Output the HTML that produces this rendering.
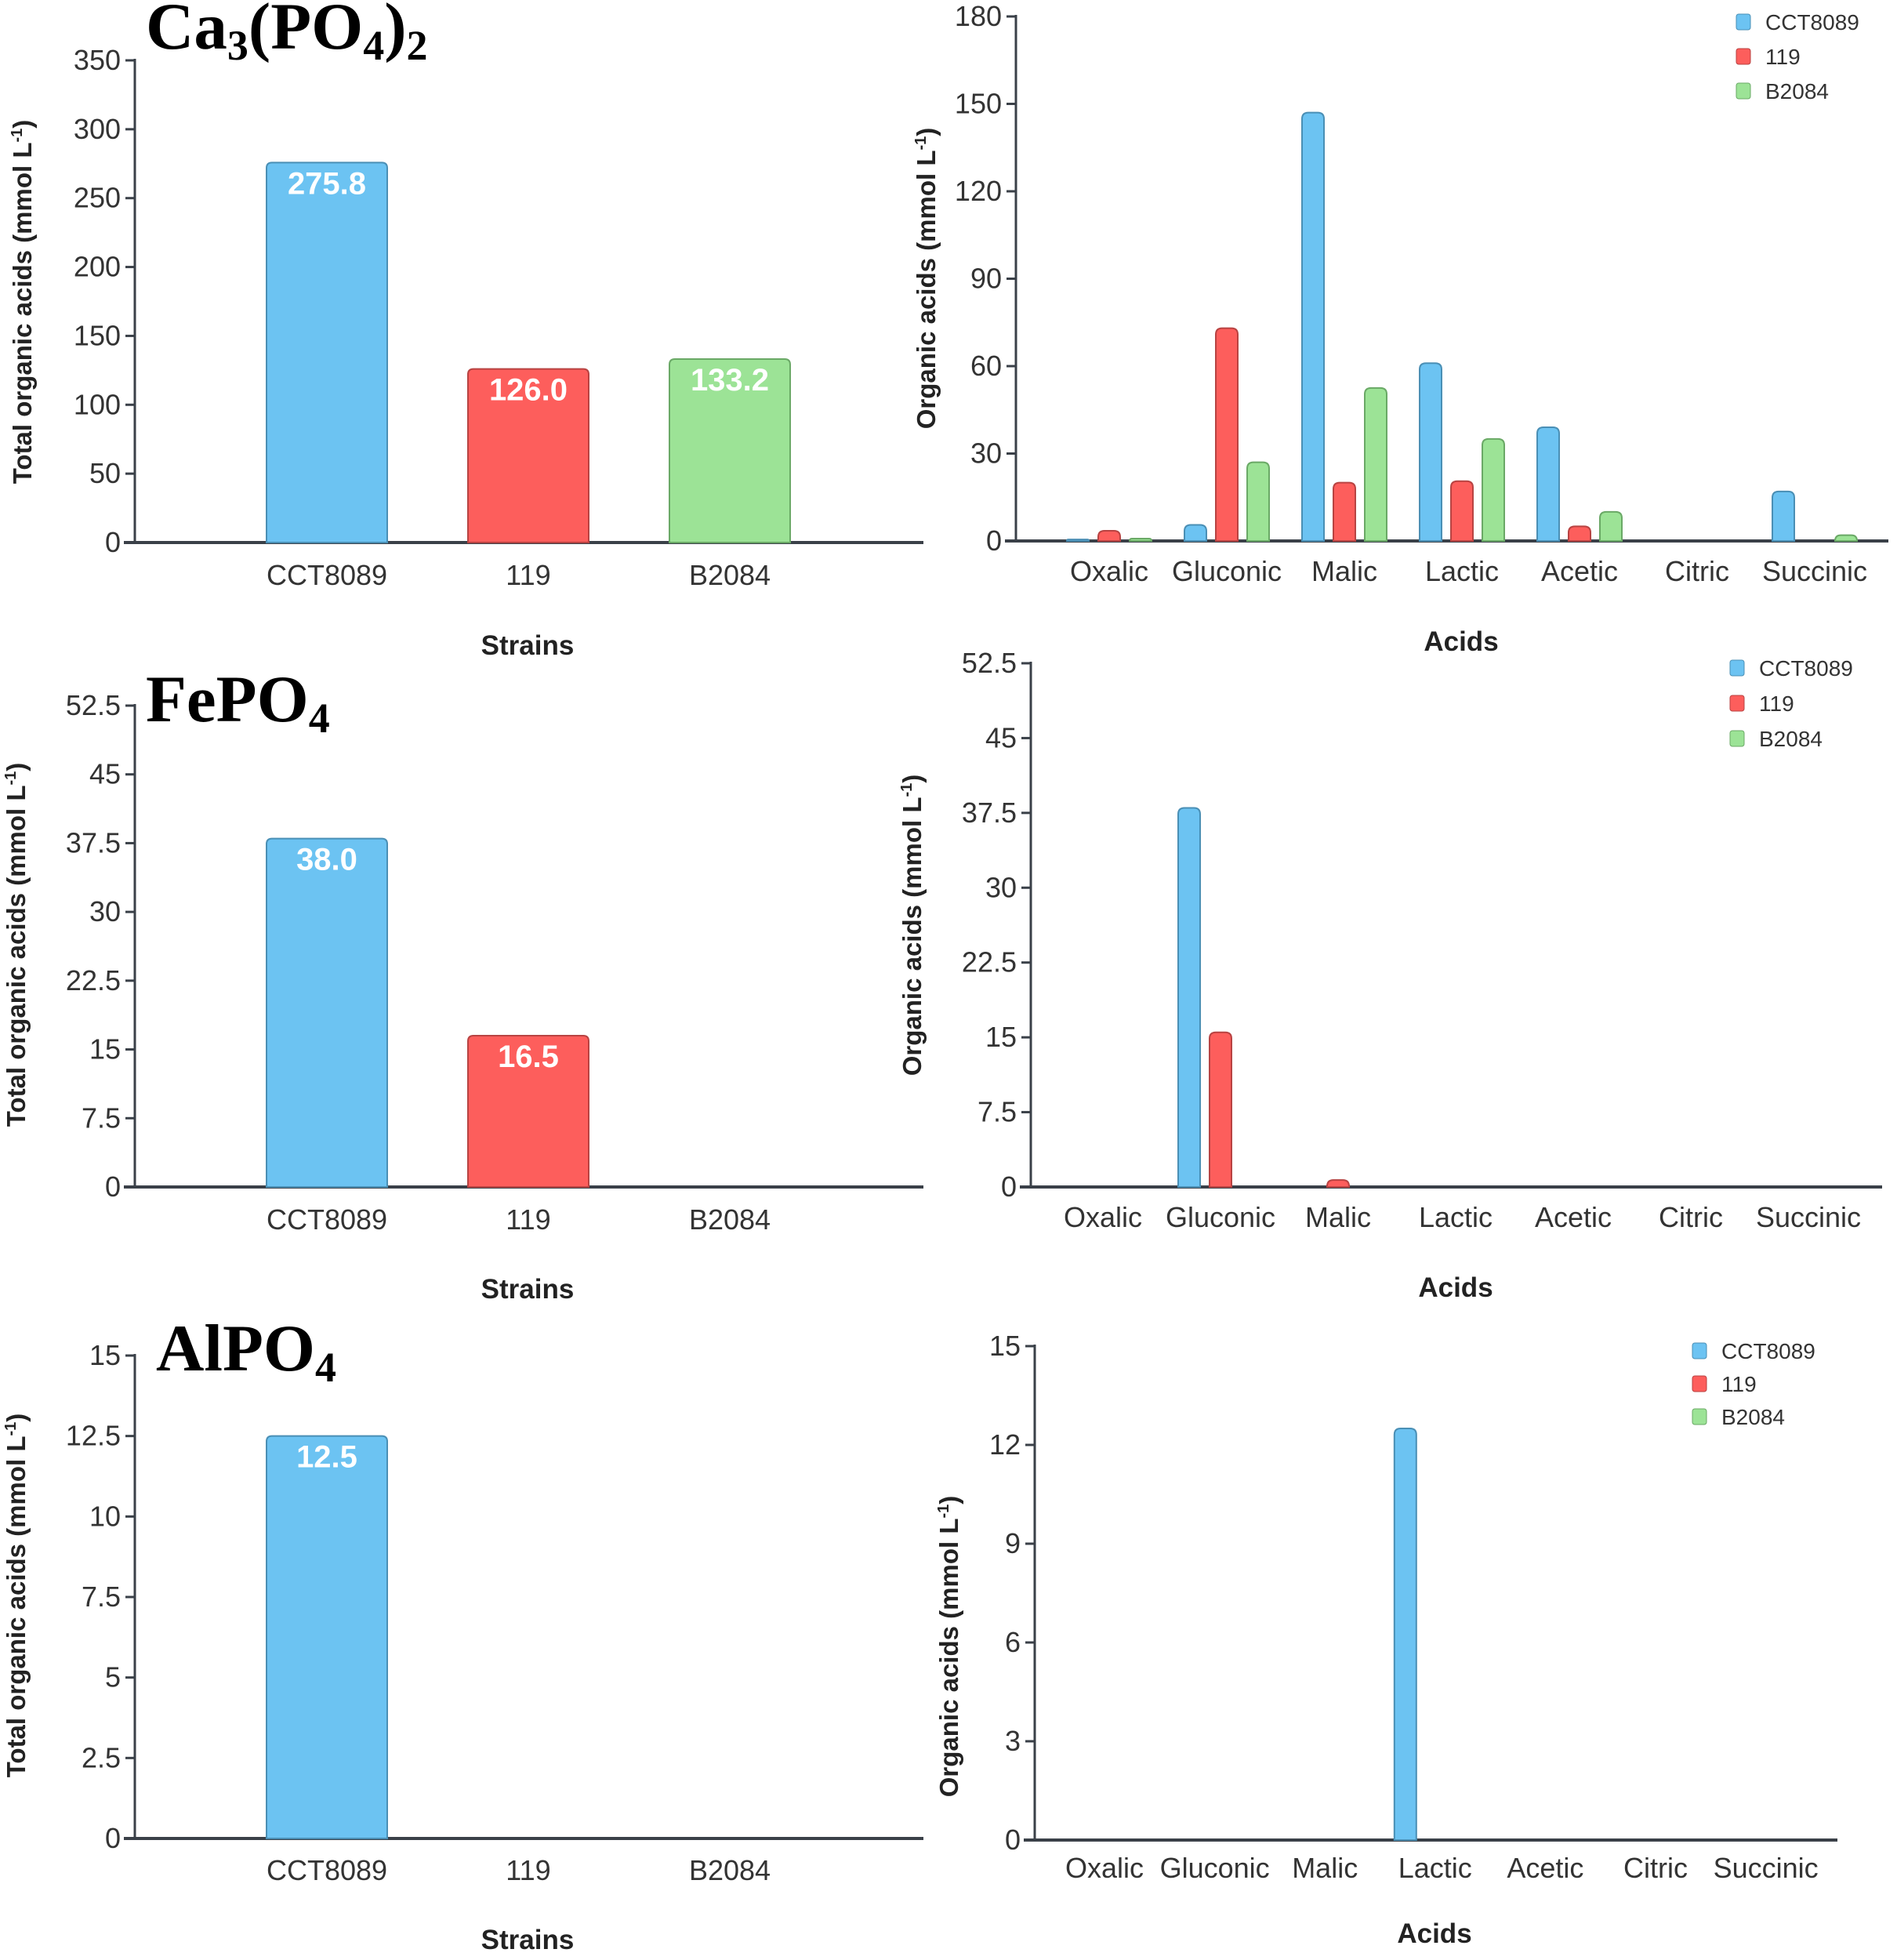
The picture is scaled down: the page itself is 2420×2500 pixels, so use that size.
<!DOCTYPE html>
<html><head><meta charset="utf-8">
<style>
html,body{margin:0;padding:0;background:#fff;}
svg{display:block;}
text{font-family:"Liberation Sans Narrow","Liberation Sans",sans-serif;fill:#333;}
.t{font-family:"Liberation Serif",serif;font-weight:bold;fill:#000;}
.b{font-family:"Liberation Sans",sans-serif;font-weight:bold;fill:#222;}
</style></head><body>
<svg id="s" width="2420" height="2500" viewBox="0 0 2420 2500" xmlns="http://www.w3.org/2000/svg">
<text class="t" x="186" y="62" font-size="85">Ca<tspan font-size="54" dy="14">3</tspan><tspan dy="-14">(PO</tspan><tspan font-size="54" dy="14">4</tspan><tspan dy="-14">)</tspan><tspan font-size="54" dy="14">2</tspan></text>
<text class="t" x="186" y="920" font-size="85">FePO<tspan font-size="54" dy="14">4</tspan></text>
<text class="t" x="199" y="1748" font-size="85">AlPO<tspan font-size="54" dy="14">4</tspan></text>
</svg>
<script>
const strains = ["CCT8089","119","B2084"];
const acids = ["Oxalic","Gluconic","Malic","Lactic","Acetic","Citric","Succinic"];
const colors = ["#6cc3f2","#fd5e5c","#9ce396"];
const strokes = ["#4a8fb5","#b84342","#6aa966"];
// Totals
const totalCa = [275.8, 126.0, 133.2];
const totalFe = [38.0, 16.5, 0];
const totalAl = [12.5, 0, 0];
const totalLabelsCa = ["275.8","126.0","133.2"];
const totalLabelsFe = ["38.0","16.5",""];
const totalLabelsAl = ["12.5","",""];
const ticksCa = [0,50,100,150,200,250,300,350];
const ticksFe = [0,7.5,15,22.5,30,37.5,45,52.5];
const ticksAl = [0,2.5,5,7.5,10,12.5,15];
// Acids by strain
const caCCT = [0.5, 5.5, 147, 61, 39, 0, 17];
const ca119 = [3.5, 73, 20, 20.5, 5, 0, 0];
const caB = [0.8, 27, 52.5, 35, 10, 0, 2];
const feCCT = [0, 38, 0, 0, 0, 0, 0];
const fe119 = [0, 15.5, 0.7, 0, 0, 0, 0];
const feB = [0, 0, 0, 0, 0, 0, 0];
const alCCT = [0, 0, 0, 12.5, 0, 0, 0];
const al119 = [0, 0, 0, 0, 0, 0, 0];
const alB = [0, 0, 0, 0, 0, 0, 0];
const ticksCaA = [0,30,60,90,120,150,180];
const ticksFeA = [0,7.5,15,22.5,30,37.5,45,52.5];
const ticksAlA = [0,3,6,9,12,15];

const svg = document.getElementById('s');
const NS = "http://www.w3.org/2000/svg";
function el(tag, attrs, txt){
  const e = document.createElementNS(NS, tag);
  for (const k in attrs) e.setAttribute(k, attrs[k]);
  if (txt !== undefined) e.textContent = txt;
  svg.appendChild(e);
  return e;
}
function barPath(x, y0, w, y1, r){
  const h = y0 - y1;
  if (h <= 0) return "";
  r = Math.min(r, h, w/2);
  return `M${x},${y0} L${x},${y1+r} Q${x},${y1} ${x+r},${y1} L${x+w-r},${y1} Q${x+w},${y1} ${x+w},${y1+r} L${x+w},${y0} Z`;
}
function axes(c){
  const ys = v => c.y0 - (v - 0) / c.max * (c.y0 - c.yTop);
  for (const t of c.ticks){
    const tk = el('line',{x1:c.ax-12,x2:c.ax,y1:ys(t),y2:ys(t),stroke:'#3a4048','stroke-width':3});
    
    
    const tl = el('text',{x:c.ax-18,y:ys(t)+12,'font-size':36,'text-anchor':'end'}, String(t));
    
    
  }
  const ya = el('line',{x1:c.ax,x2:c.ax,y1:c.yTop-2,y2:c.y0,stroke:'#3a4048','stroke-width':3});
  
  
  const xa = el('line',{x1:c.ax-14,x2:c.xEnd,y1:c.y0,y2:c.y0,stroke:'#3a4048','stroke-width':4});
  
  
  const yt = el('text',{class:'b',x:0,y:0,'font-size':33,'text-anchor':'middle',transform:`translate(${c.ytx},${c.yty}) rotate(-90)`});
  yt.innerHTML = c.ytitle + ' (mmol L<tspan font-size="20" dy="-12">-1</tspan><tspan dy="12">)</tspan>';
  
  
  const xt = el('text',{class:'b',x:c.xtx,y:c.xty,'font-size':35,'text-anchor':'middle'}, c.xtitle);
  
  
  return ys;
}
function totalChart(c, vals, labels){
  const ys = axes(c);
  strains.forEach((s,i)=>{
    const cx = c.cx0 + i*c.step;
    const v = vals[i];
    if (v > 0){
      const b = el('path',{d:barPath(cx-77, c.y0, 154, ys(v), 7),fill:colors[i],stroke:strokes[i],'stroke-width':2});
      
      
      const lb = el('text',{x:cx,y:ys(v)+40,'font-size':40,'font-weight':'bold','text-anchor':'middle',style:'fill:#fff'}, labels[i]);
      
      
    }
    const cl = el('text',{x:cx,y:c.labY,'font-size':36,'text-anchor':'middle'}, s);
    
    
  });
}
function acidChart(c, series){
  const ys = axes(c);
  acids.forEach((a,j)=>{
    const cx = c.cx0 + j*c.step;
    series.forEach((arr,i)=>{
      const v = arr[j];
      if (v > 0){
        const bx = cx + (i-1)*c.off - 14;
        const b = el('path',{d:barPath(bx, c.y0, 28, ys(v), 8),fill:colors[i],stroke:strokes[i],'stroke-width':2});
        
        
      }
    });
    const cl = el('text',{x:cx,y:c.labY,'font-size':36,'text-anchor':'middle'}, a);
    
    
  });
  strains.forEach((s,i)=>{
    const y = c.legY + i*c.legStep;
    const sq = el('rect',{x:c.legX,y:y-10,width:18,height:20,rx:3,fill:colors[i],stroke:strokes[i],'stroke-width':1});
    
    
    const lt = el('text',{x:c.legX+37,y:y+10,'font-size':28}, s);
    
    
  });
}
totalChart({ax:172,y0:692,yTop:77,max:350,ticks:ticksCa,xEnd:1178,cx0:417,step:257,labY:746,ytitle:'Total organic acids',ytx:40,yty:385,xtitle:'Strains',xtx:673,xty:835}, totalCa, totalLabelsCa);
totalChart({ax:172,y0:1514,yTop:900,max:52.5,ticks:ticksFe,xEnd:1178,cx0:417,step:257,labY:1568,ytitle:'Total organic acids',ytx:32,yty:1205,xtitle:'Strains',xtx:673,xty:1656}, totalFe, totalLabelsFe);
totalChart({ax:172,y0:2345,yTop:1729,max:15,ticks:ticksAl,xEnd:1178,cx0:417,step:257,labY:2398,ytitle:'Total organic acids',ytx:32,yty:2035,xtitle:'Strains',xtx:673,xty:2486}, totalAl, totalLabelsAl);
acidChart({ax:1296,y0:690,yTop:21,max:180,ticks:ticksCaA,xEnd:2409,cx0:1415,step:150,off:40,labY:741,ytitle:'Organic acids',ytx:1193,yty:355,xtitle:'Acids',xtx:1864,xty:830,legX:2215,legY:28,legStep:44}, [caCCT,ca119,caB]);
acidChart({ax:1315,y0:1514,yTop:846,max:52.5,ticks:ticksFeA,xEnd:2401,cx0:1407,step:150,off:40,labY:1565,ytitle:'Organic acids',ytx:1175,yty:1180,xtitle:'Acids',xtx:1857,xty:1654,legX:2207,legY:852,legStep:45}, [feCCT,fe119,feB]);
acidChart({ax:1320,y0:2347,yTop:1717,max:15,ticks:ticksAlA,xEnd:2344,cx0:1409,step:140.6,off:38,labY:2395,ytitle:'Organic acids',ytx:1222,yty:2100,xtitle:'Acids',xtx:1830,xty:2478,legX:2159,legY:1723,legStep:42}, [alCCT,al119,alB]);
</script>
</body></html>
